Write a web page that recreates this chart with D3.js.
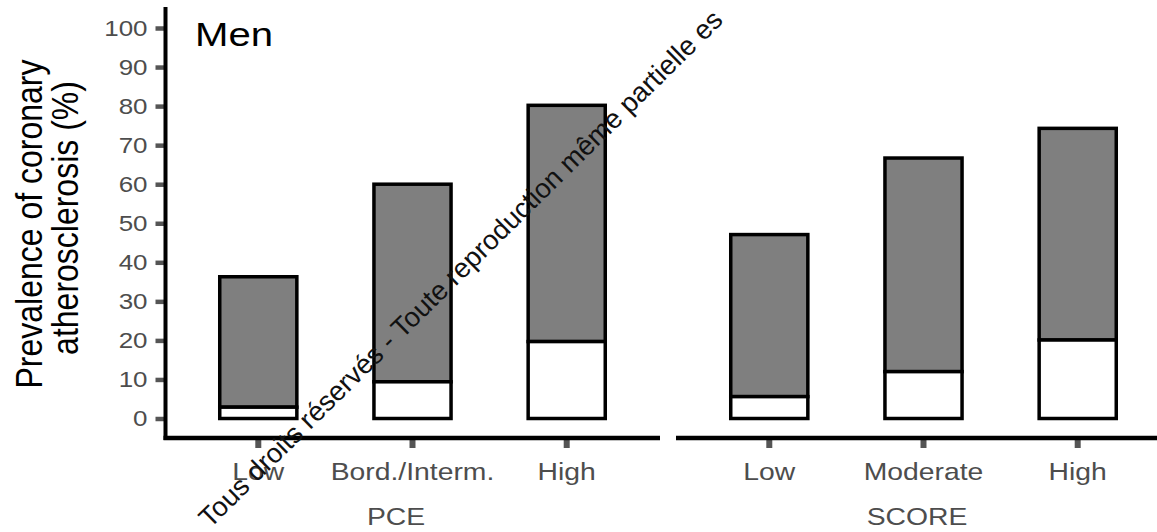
<!DOCTYPE html>
<html>
<head>
<meta charset="utf-8">
<script src="https://cdn.jsdelivr.net/npm/d3@7"></script>
<style>
  body { margin: 0; background: #fff; }
  svg { display: block; font-family: "Liberation Sans", Arial, Helvetica, sans-serif; }
</style>
</head>
<body>
<script>
// Prevalence of coronary atherosclerosis in men by risk category
const panels = ["PCE", "SCORE"];
const pceCategories = ["Low", "Bord./Interm.", "High"];
const scoreCategories = ["Low", "Moderate", "High"];
// total prevalence (top of each bar) and the lower (white) segment, in %
const pceTotal = [36.3, 60.0, 80.2];
const pceLower = [2.9, 9.4, 19.7];
const scoreTotal = [47.1, 66.7, 74.3];
const scoreLower = [5.6, 12.0, 20.1];
const yTicks = [0, 10, 20, 30, 40, 50, 60, 70, 80, 90, 100];
const yTitle = ["Prevalence of coronary", "atherosclerosis (%)"];
const panelTitle = "Men";
const notice = "Tous droits réservés - Toute reproduction même partielle es";

const W = 1157, H = 532;
const SX = 1.18;            // wide glyph aspect used for all horizontal text
const axisX = 165.5;        // y-axis line position
const axisY = 438;          // x-axis line position
const tickColor = "#555";
const labelColor = "#4d4d4d";

const panelData = [
  { name: panels[0], cats: pceCategories, total: pceTotal, lower: pceLower, range: [165, 660], labelX: 396 },
  { name: panels[1], cats: scoreCategories, total: scoreTotal, lower: scoreLower, range: [676, 1171], labelX: 917 }
];

const svg = d3.select("body").append("svg")
  .attr("width", W).attr("height", H);

svg.append("rect").attr("width", W).attr("height", H).attr("fill", "#fff");

const y = d3.scaleLinear().domain([0, 100]).range([418.5, 28]);

// stretch a text node horizontally around its anchor point
function widen(sel) {
  sel.each(function () {
    const t = d3.select(this);
    const x = +t.attr("x") || 0;
    const yy = +t.attr("y") || 0;
    t.attr("x", 0).attr("y", 0)
     .attr("transform", `translate(${x},${yy}) scale(${SX},1)`);
  });
}

// ---- bars ----
panelData.forEach(p => {
  const x = d3.scaleBand().domain(p.cats).range(p.range)
    .paddingInner(0.5).paddingOuter(0.355);
  p.x = x;
  const rows = p.cats.map((c, i) => ({ c, total: p.total[i], lower: p.lower[i] }));
  const g = svg.append("g").attr("class", "bars");

  g.selectAll("rect.upper").data(rows).join("rect")
    .attr("class", "upper")
    .attr("x", d => x(d.c)).attr("width", x.bandwidth())
    .attr("y", d => y(d.total)).attr("height", d => y(d.lower) - y(d.total))
    .attr("fill", "#7f7f7f").attr("stroke", "#000").attr("stroke-width", 3.5);

  g.selectAll("rect.lower").data(rows).join("rect")
    .attr("class", "lower")
    .attr("x", d => x(d.c)).attr("width", x.bandwidth())
    .attr("y", d => y(d.lower)).attr("height", d => y(0) - y(d.lower))
    .attr("fill", "#fff").attr("stroke", "#000").attr("stroke-width", 3.5);
});

// ---- y axis ----
const yAxisG = svg.append("g")
  .attr("transform", `translate(${axisX},0)`)
  .call(d3.axisLeft(y).tickValues(yTicks).tickSize(10).tickPadding(8));
yAxisG.attr("font-family", null);
yAxisG.select(".domain").remove();
yAxisG.selectAll(".tick line").attr("stroke", tickColor).attr("stroke-width", 4.5);
yAxisG.selectAll(".tick text")
  .attr("font-size", 22).attr("fill", labelColor)
  .call(widen);

svg.append("line")
  .attr("x1", axisX).attr("x2", axisX)
  .attr("y1", 7).attr("y2", axisY + 2)
  .attr("stroke", "#000").attr("stroke-width", 4);

// ---- x axes ----
panelData.forEach((p, i) => {
  const g = svg.append("g")
    .attr("transform", `translate(0,${axisY})`)
    .call(d3.axisBottom(p.x).tickSize(10).tickPadding(0));
  g.attr("font-family", null);
  g.select(".domain").remove();
  g.selectAll(".tick line").attr("stroke", tickColor).attr("stroke-width", 6);
  g.selectAll(".tick text")
    .attr("font-size", 24).attr("fill", labelColor)
    .attr("dy", null).attr("y", 42)
    .call(widen);

  svg.append("line")
    .attr("x1", i === 0 ? axisX - 2 : p.range[0]).attr("x2", Math.min(p.range[1], W))
    .attr("y1", axisY).attr("y2", axisY)
    .attr("stroke", "#000").attr("stroke-width", 4.5);

  svg.append("text")
    .attr("x", p.labelX).attr("y", 524.5)
    .attr("text-anchor", "middle")
    .attr("font-size", 24).attr("fill", labelColor)
    .text(p.name)
    .call(widen);
});

// ---- y-axis title ----
const titleX = [42, 78];
const titleY = [224, 218];
yTitle.forEach((line, i) => {
  svg.append("text")
    .attr("transform", `translate(${titleX[i]},${titleY[i]}) scale(${SX},1) rotate(-90)`)
    .attr("text-anchor", "middle")
    .attr("font-size", 32).attr("fill", "#000")
    .text(line);
});

// ---- panel title ----
svg.append("text")
  .attr("x", 195).attr("y", 46)
  .attr("font-size", 34).attr("fill", "#000")
  .text(panelTitle)
  .call(widen);

// ---- diagonal notice ----
svg.append("text")
  .attr("transform", "translate(210,529) rotate(-44.6)")
  .attr("font-size", 27.5).attr("fill", "#111")
  .text(notice);
</script>
</body>
</html>
